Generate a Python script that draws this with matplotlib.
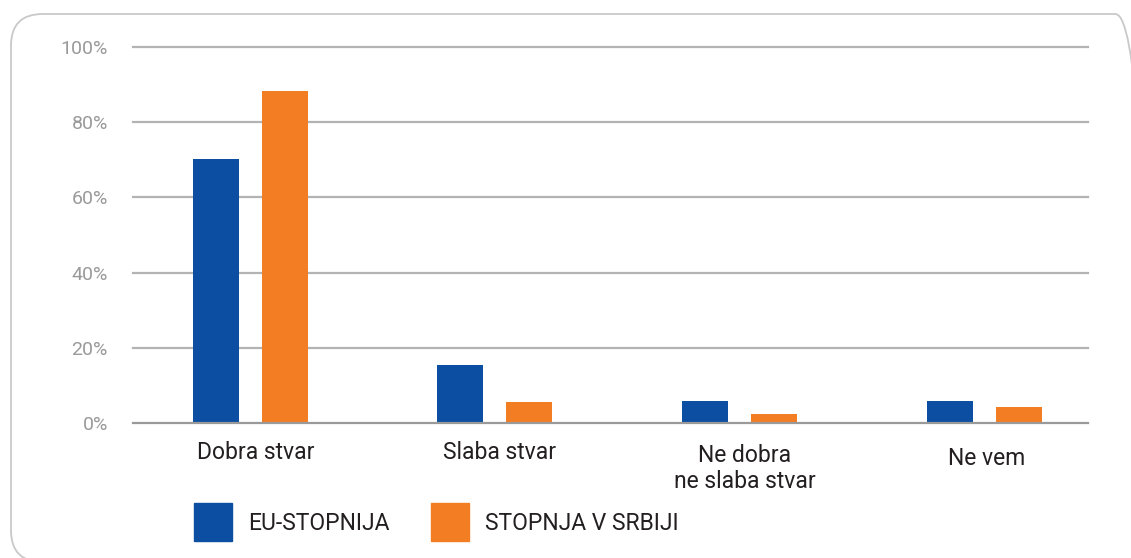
import numpy as np
import matplotlib
matplotlib.use('Agg')
import matplotlib.pyplot as plt
from matplotlib.patches import FancyBboxPatch, Rectangle

# data
categories = ['Dobra stvar', 'Slaba stvar', 'Ne dobra\nne slaba stvar', 'Ne vem']
eu_rate = [70.2, 15.4, 5.9, 5.9]      # EU-STOPNJA [%]
rs_rate = [88.3, 5.6, 2.4, 4.3]       # STOPNJA V SRBIJI [%]
series_names = ['EU-STOPNIJA', 'STOPNJA V SRBIJI']
yticks = [0, 20, 40, 60, 80, 100]

blue = '#0c4ea2'
orange = '#f27d23'
txt = '#231f20'
W, H = 1131, 558

plt.rcParams['font.family'] = ['Roboto', 'DejaVu Sans']

fig = plt.figure(figsize=(W/100, H/100), dpi=100)

# rounded frame around the chart (cut off on right/bottom)
frame = FancyBboxPatch((11/W, 1 - 562/H), (1147 - 11)/W, (562 - 14)/H,
                       boxstyle='round,pad=0,rounding_size=0.028',
                       transform=fig.transFigure, fc='none', ec='#c9c9c9',
                       lw=1.3, mutation_aspect=W/H)
fig.patches.append(frame)

ax = fig.add_axes([133/W, 1 - 423/H, (1088 - 133)/W, (423 - 47)/H])
x = np.arange(len(categories))
off = 0.141
bw = 0.188
ax.bar(x - off, eu_rate, bw, color=blue, zorder=3)
ax.bar(x + off, rs_rate, bw, color=orange, zorder=3)

ax.set_xlim(-0.48, 3.425)
ax.set_ylim(0, 100)
ax.set_yticks(yticks)
ax.set_yticklabels(['%d%%' % v for v in yticks], color='#9a9a9a', fontsize=14)
ax.tick_params(axis='y', length=0, pad=18)
ax.set_xticks([])
for s in ax.spines.values():
    s.set_visible(False)
for v in yticks:
    ax.axhline(v, color='#9a9a9a' if v == 0 else '#b3b3b3', lw=1.6,
               zorder=2 if v else 4, clip_on=False)

# category labels
trans = ax.get_xaxis_transform()
for i, c in enumerate(categories):
    if '\n' in c:
        ax.text(i + 0.02, -0.055, c, transform=trans, ha='center', va='top',
                fontsize=16.5, color=txt, linespacing=1.2)
    elif i == 3:
        ax.text(i + 0.01, -0.095, c, transform=trans, ha='center', va='center',
                fontsize=16.5, color=txt)
    else:
        ax.text(i + 0.02, -0.078, c, transform=trans, ha='center', va='center',
                fontsize=16.5, color=txt)

# legend drawn by hand
for (x0, col, name) in [(194, blue, series_names[0]), (431, orange, series_names[1])]:
    fig.patches.append(Rectangle((x0/W, 1 - 541/H), 38/W, 38/H,
                                 transform=fig.transFigure, color=col))
    fig.text((x0 + 54)/W, 1 - 523/H, name, ha='left', va='center',
             fontsize=16.5, color=txt)

fig.savefig('out.png', dpi=100)
